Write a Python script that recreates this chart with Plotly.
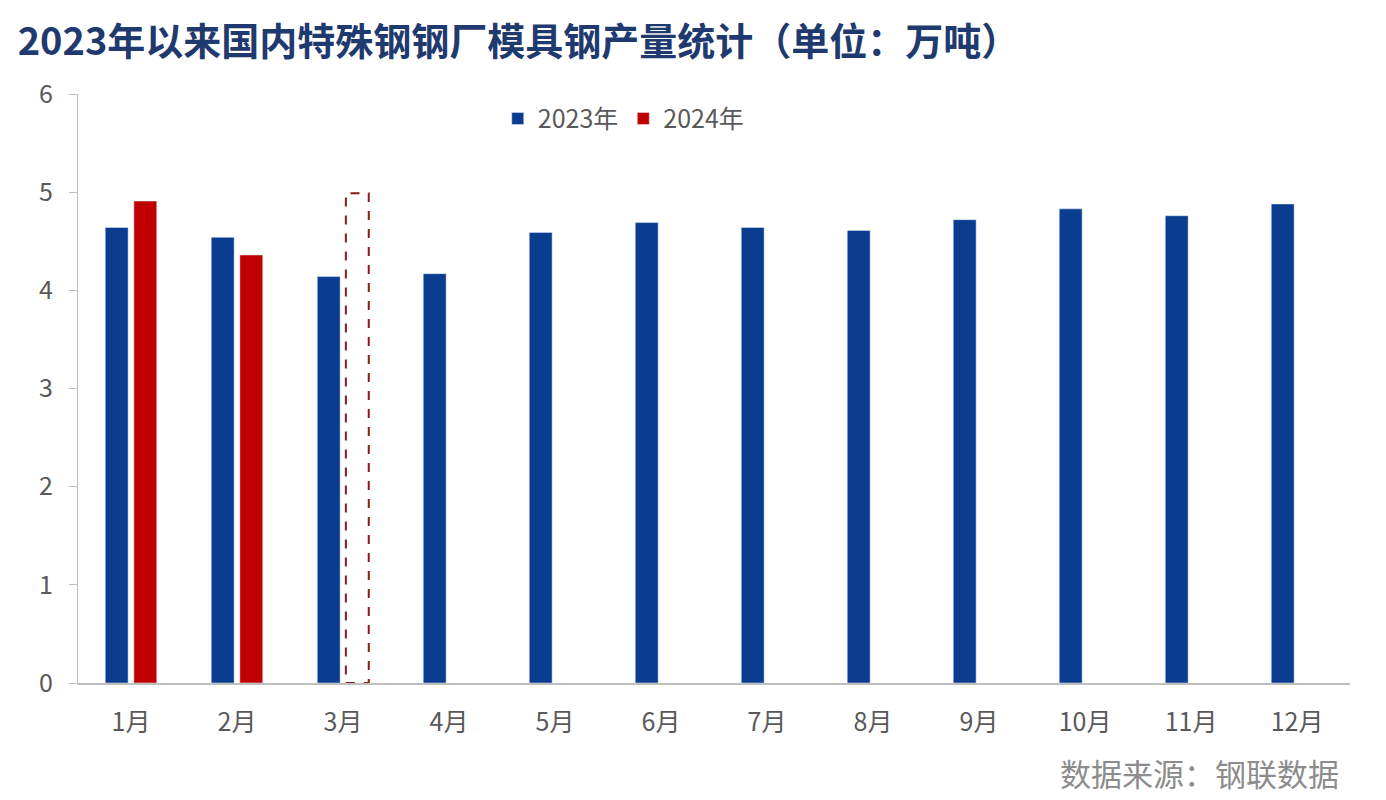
import plotly.graph_objects as go

# 2023年以来国内特殊钢钢厂模具钢产量（万吨）
months = ["1月", "2月", "3月", "4月", "5月", "6月", "7月", "8月", "9月", "10月", "11月", "12月"]
output_2023 = [4.64, 4.54, 4.14, 4.17, 4.59, 4.69, 4.64, 4.61, 4.72, 4.83, 4.76, 4.88]
output_2024 = [4.91, 4.36, None, None, None, None, None, None, None, None, None, None]
# 3月 estimate, drawn as a dashed outline
estimate_month = "3月"
estimate_2024 = 4.99

BLUE = "#0A3D8F"
RED = "#C00000"
GREY = "#595959"
FONT = "Noto Sans CJK SC"

BARGAP = 0.46
BARGROUPGAP = 0.2

fig = go.Figure()
fig.add_bar(x=months, y=output_2023, name="2023年", marker_color=BLUE)
fig.add_bar(x=months, y=output_2024, name="2024年", marker_color=RED)

# dashed outline for the 2024 estimate, placed in the 2024 slot of its month
slot = (1 - BARGAP) / 2
bar_w = slot * (1 - BARGROUPGAP)
i = months.index(estimate_month)
fig.add_shape(
    type="rect", xref="x", yref="y",
    x0=i + slot / 2 - bar_w / 2, x1=i + slot / 2 + bar_w / 2,
    y0=0, y1=estimate_2024,
    line=dict(color="#8B1A1A", width=2, dash="dash"),
    fillcolor="rgba(0,0,0,0)",
)

fig.update_layout(
    width=1378, height=792,
    paper_bgcolor="white", plot_bgcolor="white",
    margin=dict(l=70, r=36, t=86, b=117),
    barmode="group", bargap=BARGAP, bargroupgap=BARGROUPGAP,
    font=dict(family=FONT, color=GREY, size=24),
    title=dict(
        text="<b>2023年以来国内特殊钢钢厂模具钢产量统计（单位：万吨）</b>",
        x=0.007, xanchor="left", y=0.957, yanchor="middle",
        font=dict(family=FONT, size=38, color="#1F3A6E"),
    ),
    legend=dict(
        orientation="h", x=0.33, xanchor="left", y=0.997, yanchor="top",
        font=dict(size=25, color=GREY), bgcolor="rgba(0,0,0,0)",
        itemwidth=30,
    ),
    xaxis=dict(
        showgrid=False, showline=True, linecolor="#BFBFBF", linewidth=2,
        ticks="", tickfont=dict(size=25, color=GREY), ticklabelstandoff=16,
    ),
    yaxis=dict(
        range=[0, 6], dtick=1, showgrid=False, zeroline=False,
        showline=True, linecolor="#BFBFBF", linewidth=1,
        ticks="outside", ticklen=8, tickcolor="#BFBFBF",
        tickfont=dict(size=25, color=GREY), ticklabelstandoff=11,
    ),
)

fig.add_annotation(
    text="数据来源：钢联数据", xref="paper", yref="paper",
    x=0.993, xanchor="right", y=-0.152, yanchor="middle",
    showarrow=False, font=dict(family=FONT, size=31, color="#8C8C8C"),
)

fig.write_html("out.html")
